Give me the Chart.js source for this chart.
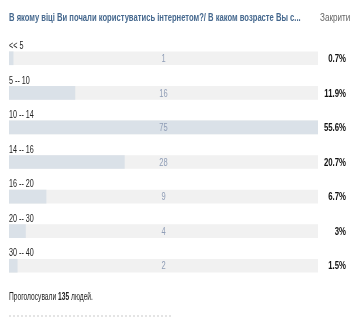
<!DOCTYPE html>
<html>
<head>
<meta charset="utf-8">
<script src="https://cdn.jsdelivr.net/npm/chart.js@4.4.0/dist/chart.umd.min.js"></script>
<style>
    html, body { margin: 0; padding: 0; background: #fff; }
    #wrap { position: relative; width: 354px; height: 323px; overflow: hidden; font-family: "Liberation Sans", sans-serif; }
    .txt { position: absolute; white-space: nowrap; transform-origin: left center; }
    #title { left: 9px; top: 11px; font-size: 11px; font-weight: bold; color: #45688e; }
    #close { left: 320px; top: 12px; font-size: 10px; color: #666; }
    #total { left: 9px; top: 291px; font-size: 10px; color: #222; }
    #line { position: absolute; left: 9px; top: 315px; width: 162px; border-top: 2px dotted #e4e4e4; }
    canvas { position: absolute; left: 0; top: 0; }
</style>
</head>
<body>
<div id="wrap">
    <canvas id="poll" width="354" height="323"></canvas>
    <div id="title" class="txt">В якому віці Ви почали користуватись інтернетом?/ В каком возрасте Вы с...</div>
    <div id="close" class="txt">Закрити</div>
    <div id="total" class="txt">Проголосували <b id="count"></b> людей.</div>
    <div id="line"></div>
</div>
<script>
// Варіанти відповідей і кількість голосів
const categories = ['<< 5', '5 -- 10', '10 -- 14', '14 -- 16', '16 -- 20', '20 -- 30', '30 -- 40'];
const votes = [1, 16, 75, 28, 9, 4, 2];
const totalVotes = 135;

const maxVotes = Math.max(...votes);
const tracks = categories.map(() => maxVotes);

document.getElementById('count').textContent = totalVotes;

// вузький шрифт: стискаємо текст по ширині
function fitWidth(id, width) {
    const el = document.getElementById(id);
    el.style.transform = 'scaleX(' + (width / el.offsetWidth) + ')';
}
fitWidth('title', 292);
fitWidth('close', 30);
fitWidth('total', 84);

function percentLabel(v) {
    const p = (v / totalVotes * 100).toFixed(1);
    return p.replace(/\.0$/, '') + '%';
}

function narrowText(ctx, text, x, y, align, sx) {
    ctx.save();
    ctx.translate(x, y);
    ctx.scale(sx, 1);
    ctx.textAlign = align;
    ctx.fillText(text, 0, 0);
    ctx.restore();
}

// Підписи над смугами, кількість голосів та відсотки
const pollLabels = {
    id: 'pollLabels',
    afterDatasetsDraw(chart) {
        const ctx = chart.ctx;
        const area = chart.chartArea;
        const meta = chart.getDatasetMeta(0);
        const font = '"Liberation Sans", sans-serif';
        ctx.save();
        ctx.textBaseline = 'middle';
        meta.data.forEach((bar, i) => {
            ctx.fillStyle = '#222';
            ctx.font = '10px ' + font;
            narrowText(ctx, categories[i], area.left, bar.y - 12, 'left', 0.72);

            ctx.fillStyle = '#8f9db6';
            ctx.font = '10px ' + font;
            narrowText(ctx, String(votes[i]), (area.left + area.right) / 2, bar.y + 1, 'center', 0.75);

            ctx.fillStyle = '#111';
            ctx.font = 'bold 10px ' + font;
            narrowText(ctx, percentLabel(votes[i]), 346, bar.y + 1, 'right', 0.78);
        });
        ctx.restore();
    }
};

new Chart(document.getElementById('poll'), {
    type: 'bar',
    data: {
        labels: categories,
        datasets: [
            {
                data: votes,
                backgroundColor: '#dae1e8',
                barThickness: 13,
                grouped: false
            },
            {
                data: tracks,
                backgroundColor: '#f1f1f1',
                barThickness: 13,
                grouped: false
            }
        ]
    },
    options: {
        indexAxis: 'y',
        responsive: false,
        animation: false,
        layout: {
            padding: { left: 9, right: 36, top: 41, bottom: 40 }
        },
        scales: {
            x: { display: false, min: 0, max: maxVotes },
            y: { display: false }
        },
        plugins: {
            legend: { display: false },
            tooltip: { enabled: false }
        }
    },
    plugins: [pollLabels]
});
</script>
</body>
</html>
